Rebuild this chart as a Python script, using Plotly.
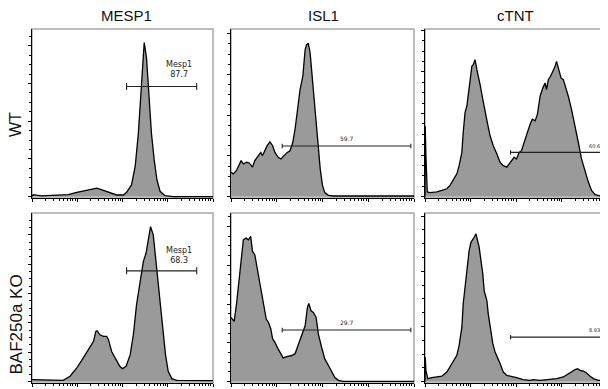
import numpy as np
import plotly.graph_objects as go

# ---------------- data (x in log decades, y in % of panel height) ----------------
columns = ["MESP1", "ISL1", "cTNT"]
rows = ["WT", "BAF250a KO"]

mesp1_wt_x = [0.00, 0.03, 0.20, 0.47, 0.80, 0.99, 1.21, 1.43, 1.58, 1.72, 1.87, 2.02, 2.09, 2.20,
              2.28, 2.35, 2.40, 2.45, 2.48, 2.53, 2.58, 2.64, 2.70, 2.76, 2.83, 2.94, 3.12, 4.00]
mesp1_wt_y = [0.2, 1.2, 0.5, 0.8, 1.2, 2.6, 3.7, 5.1, 3.7, 2.2, 1.0, 1.0, 2.6, 7.1,
              18.0, 37.7, 57.4, 77.1, 91.9, 83.0, 61.4, 37.7, 21.9, 10.1, 3.2, 0.6, 0.0, 0.0]

mesp1_ko_x = [0.00, 0.69, 0.84, 0.99, 1.13, 1.22, 1.28, 1.36, 1.41, 1.44, 1.50, 1.58, 1.65, 1.69,
              1.76, 1.87, 1.94, 2.00, 2.08, 2.17, 2.24, 2.31, 2.39, 2.46, 2.52, 2.57, 2.62, 2.68,
              2.74, 2.81, 2.89, 2.95, 3.01, 3.09, 3.20, 4.00]
mesp1_ko_y = [1.2, 0.8, 3.2, 8.1, 14.0, 17.9, 20.9, 23.9, 29.8, 30.2, 27.8, 26.8, 26.8, 24.9,
              17.9, 12.0, 9.1, 7.7, 9.1, 16.0, 27.8, 45.6, 59.3, 71.2, 76.1, 85.0, 91.9, 87.0,
              71.2, 51.5, 31.8, 16.0, 6.1, 1.8, 0.8, 0.6]

isl1_wt_x = [0.00, 0.05, 0.12, 0.22, 0.27, 0.34, 0.40, 0.47, 0.52, 0.60, 0.65, 0.69, 0.74, 0.79,
             0.85, 0.91, 0.96, 1.03, 1.09, 1.16, 1.23, 1.29, 1.35, 1.40, 1.46, 1.51, 1.57, 1.62,
             1.65, 1.69, 1.73, 1.78, 1.84, 1.89, 1.95, 2.00, 2.05, 2.13, 2.24, 4.00]
isl1_wt_y = [14.6, 13.6, 15.6, 21.5, 19.5, 20.5, 20.1, 17.6, 21.5, 24.5, 26.4, 24.5, 27.4, 30.4,
             32.7, 30.4, 26.4, 23.5, 22.5, 24.5, 26.4, 27.4, 32.3, 40.2, 54.0, 63.9, 71.8, 87.6,
             90.5, 91.5, 85.6, 69.8, 50.1, 32.3, 16.6, 6.7, 2.4, 0.8, 0.4, 0.4]

isl1_ko_x = [0.00, 0.07, 0.12, 0.20, 0.27, 0.33, 0.38, 0.43, 0.47, 0.52, 0.56, 0.62, 0.67, 0.72,
             0.77, 0.82, 0.87, 0.91, 0.96, 1.03, 1.09, 1.14, 1.22, 1.33, 1.40, 1.45, 1.51, 1.57,
             1.62, 1.67, 1.70, 1.75, 1.80, 1.86, 1.91, 1.98, 2.05, 2.13, 2.20, 2.27, 2.35, 2.45, 4.00]
isl1_ko_y = [38.1, 35.7, 45.9, 65.5, 84.1, 85.1, 84.1, 86.1, 77.2, 75.3, 69.4, 59.6, 51.8, 43.9,
             37.1, 35.1, 31.2, 25.3, 23.3, 19.4, 16.5, 14.1, 14.9, 15.5, 16.5, 20.4, 24.3, 30.2,
             33.1, 43.9, 46.3, 42.0, 41.0, 38.1, 28.2, 20.4, 13.5, 9.6, 5.7, 2.4, 0.8, 0.2, 0.2]

ctnt_wt_x = [0.00, 0.005, 0.02, 0.05, 0.11, 0.26, 0.37, 0.48, 0.55, 0.62, 0.70, 0.75, 0.81, 0.84,
             0.88, 0.92, 0.95, 0.99, 1.03, 1.06, 1.10, 1.14, 1.17, 1.21, 1.27, 1.32, 1.37, 1.43,
             1.50, 1.58, 1.65, 1.72, 1.80, 1.85, 1.90, 1.96, 2.01, 2.07, 2.12, 2.18, 2.23, 2.27,
             2.31, 2.36, 2.42, 2.47, 2.53, 2.59, 2.64, 2.67, 2.71, 2.76, 2.81, 2.86, 2.89, 2.95,
             2.99, 3.04, 3.09, 3.15, 3.22, 3.30, 3.37, 3.44, 3.52, 3.59, 3.66, 3.74, 3.85, 4.00]
ctnt_wt_y = [0.0, 42.2, 24.4, 2.8, 2.4, 2.8, 3.7, 4.7, 6.7, 9.7, 13.6, 18.5, 26.4, 38.3,
             50.1, 54.0, 59.9, 68.8, 77.7, 78.7, 81.7, 75.7, 70.8, 66.9, 58.0, 52.1, 44.2, 36.3,
             30.4, 25.4, 20.5, 18.5, 17.6, 19.5, 21.5, 23.5, 22.5, 26.4, 27.4, 32.3, 37.3, 39.2,
             43.2, 46.2, 45.2, 49.1, 59.9, 64.9, 67.8, 63.9, 69.8, 71.8, 74.8, 77.7, 80.7, 74.8,
             70.8, 69.8, 65.9, 59.9, 52.1, 42.2, 32.3, 22.5, 14.6, 8.7, 3.7, 1.2, 0.4, 0.0]

ctnt_ko_x = [0.00, 0.005, 0.02, 0.06, 0.15, 0.26, 0.37, 0.48, 0.55, 0.62, 0.70, 0.75, 0.81, 0.84,
             0.89, 0.94, 0.97, 1.01, 1.05, 1.08, 1.12, 1.16, 1.19, 1.23, 1.27, 1.30, 1.36, 1.39,
             1.43, 1.49, 1.54, 1.59, 1.65, 1.72, 1.80, 2.01, 2.16, 2.31, 2.38, 2.53, 2.75, 2.89,
             3.04, 3.15, 3.22, 3.30, 3.35, 3.41, 3.48, 3.55, 3.63, 3.70, 3.81, 4.00]
ctnt_ko_y = [0.0, 14.6, 6.7, 1.8, 2.4, 2.8, 3.2, 5.7, 8.7, 11.6, 15.6, 21.5, 32.3, 46.2,
             59.9, 69.8, 77.7, 82.6, 84.0, 85.6, 87.6, 83.6, 79.7, 71.8, 63.9, 54.0, 48.1, 40.2,
             32.3, 22.5, 17.6, 14.6, 10.7, 5.7, 3.7, 2.4, 1.2, 0.8, 1.2, 0.8, 1.2, 1.8,
             2.8, 4.7, 6.1, 7.1, 7.7, 6.7, 6.3, 5.1, 3.2, 1.8, 0.8, 0.4]

gate_start = [2.09, 1.12, 1.88]
gate_end = [3.64, 3.93, 4.00]
gate_level_wt = [65.7, 30.2, 26.4]
gate_level_ko = [65.7, 30.6, 26.4]
gate_text_wt = ["Mesp1<br>87.7", "59.7", "60.6"]
gate_text_ko = ["Mesp1<br>68.3", "29.7", "8.93"]
label_x = [3.25, 2.53, 3.72]
label_y_wt = [76.0, 34.7, 30.4]
label_y_ko = [75.0, 35.1, 30.8]
y_major_step = [[22.5, 24.3, 24.8], [17.4, 23.0, 32.7]]

# ---------------- layout geometry ----------------
# The page body has an 8 px margin, so the figure is placed at (8, 8) in the window.
OFF = 8
W, H = 600, 381
col_px = [(32, 213), (231, 414), (425, 607)]
row_px = [(29, 198), (213, 383)]
cap_size = [3.5, 2.2, 2.2]
label_size = [8, 6, 5]


def px_x(x):
    return (x - OFF) / W


def px_y(y):
    return 1 - (y - OFF) / H


series = [[(mesp1_wt_x, mesp1_wt_y), (isl1_wt_x, isl1_wt_y), (ctnt_wt_x, ctnt_wt_y)],
          [(mesp1_ko_x, mesp1_ko_y), (isl1_ko_x, isl1_ko_y), (ctnt_ko_x, ctnt_ko_y)]]
gate_levels = [gate_level_wt, gate_level_ko]
gate_texts = [gate_text_wt, gate_text_ko]
label_ys = [label_y_wt, label_y_ko]

minor_x = [d + np.log10(k) for d in range(4) for k in range(2, 10)]

fig = go.Figure()
layout = dict(width=W, height=H, margin=dict(l=0, r=0, t=0, b=0),
              paper_bgcolor="white", plot_bgcolor="white", showlegend=False,
              shapes=[], annotations=[])

idx = 0
for r in range(2):
    for c in range(3):
        idx += 1
        xa = "x" if idx == 1 else f"x{idx}"
        ya = "y" if idx == 1 else f"y{idx}"
        xs, ys = series[r][c]
        fig.add_trace(go.Scatter(x=xs, y=ys, xaxis=xa, yaxis=ya, mode="lines",
                                 line=dict(color="black", width=1.3),
                                 fill="tozeroy", fillcolor="#9a9a9a", hoverinfo="skip"))
        g0, g1, gy = gate_start[c], gate_end[c], gate_levels[r][c]
        cap = cap_size[c] / (row_px[r][1] - row_px[r][0]) * 100.8
        fig.add_trace(go.Scatter(x=[g0, g0, None, g0, g1, None, g1, g1],
                                 y=[gy - cap, gy + cap, None, gy, gy, None, gy - cap, gy + cap],
                                 xaxis=xa, yaxis=ya, mode="lines", cliponaxis=False,
                                 line=dict(color="#222222", width=1.1), hoverinfo="skip"))
        layout["annotations"].append(dict(
            x=label_x[c], y=label_ys[r][c], xref=xa, yref=ya, text=gate_texts[r][c],
            showarrow=False, font=dict(family="DejaVu Sans", size=label_size[c], color="#222222"),
            align="center"))
        x0, x1 = col_px[c]
        y0, y1 = row_px[r]
        key = "" if idx == 1 else str(idx)
        layout["xaxis" + key] = dict(
            domain=[px_x(x0), min(px_x(x1), 1.0)], range=[0, 4], anchor=ya,
            showline=True, linecolor="black", linewidth=1, mirror=False,
            ticks="outside", ticklen=3, tickcolor="black", tickwidth=1,
            tickmode="array", tickvals=[0, 1, 2, 3, 4], showticklabels=False,
            showgrid=False, zeroline=False,
            minor=dict(tickmode="array", tickvals=minor_x, ticks="outside",
                       ticklen=2, tickcolor="black", tickwidth=1, showgrid=False))
        step = y_major_step[r][c]
        layout["yaxis" + key] = dict(
            domain=[px_y(y1), px_y(y0)], range=[-0.8, 100], anchor=xa,
            showline=True, linecolor="black", linewidth=1,
            ticks="outside", ticklen=3, tickcolor="black", tickwidth=1,
            tick0=0, dtick=step, showticklabels=False, showgrid=False, zeroline=False,
            minor=dict(tick0=0, dtick=step / 4, ticks="outside", ticklen=2,
                       tickcolor="black", tickwidth=1, showgrid=False))
        layout["shapes"].append(dict(type="rect", xref=f"{xa} domain", yref=f"{ya} domain",
                                     x0=0, x1=1, y0=0, y1=1, layer="below",
                                     line=dict(color="#a8a8a8", width=1.5)))

title_x = [126, 323, 515]
for c in range(3):
    layout["annotations"].append(dict(
        x=px_x(title_x[c]), y=px_y(15.5), xref="paper", yref="paper", text=columns[c],
        showarrow=False, font=dict(family="Liberation Sans, Arial", size=15, color="#111111"),
        xanchor="center", yanchor="middle"))

row_label_y = [124.5, 325]
row_label_size = [16, 17]
for r in range(2):
    layout["annotations"].append(dict(
        x=px_x(15.5), y=px_y(row_label_y[r]), xref="paper", yref="paper", text=rows[r],
        showarrow=False, textangle=-90,
        font=dict(family="Liberation Sans, Arial", size=row_label_size[r], color="#111111"),
        xanchor="center", yanchor="middle"))

fig.update_layout(**layout)
fig.write_html("out.html")
